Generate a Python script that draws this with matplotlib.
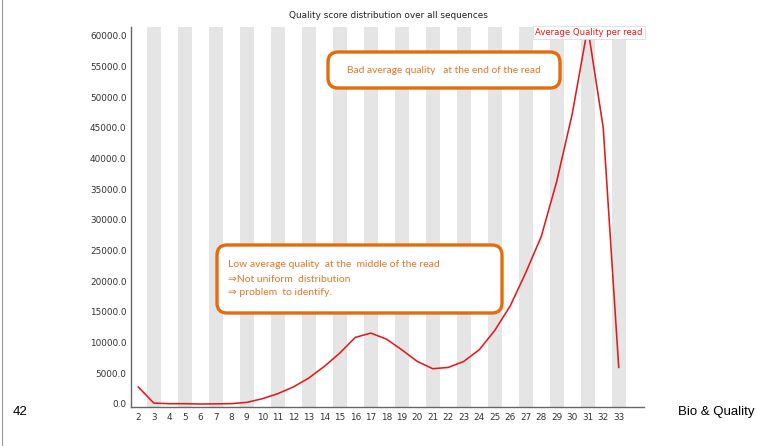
import matplotlib
matplotlib.use("Agg")
import matplotlib.pyplot as plt
from matplotlib.patches import FancyBboxPatch
from matplotlib.lines import Line2D

# Average quality per read: read positions and counts
positions = list(range(2, 34))
avg_quality = [2770, 150, 50, 50, 0, 20, 60, 260, 860, 1680, 2770, 4230,
               6120, 8300, 10850, 11560, 10590, 8840, 6940, 5750, 5960, 6940,
               8840, 11990, 16000, 21400, 27300, 36300, 47300, 61400, 45000, 5960]

y_ticks = [0, 5000, 10000, 15000, 20000, 25000, 30000, 35000, 40000,
           45000, 50000, 55000, 60000]
y_ticklabels = [f"{v:.1f}" for v in y_ticks]

chart_title = "Quality score distribution over all sequences"
legend_label = "Average Quality per read"
note_middle = ["Low average quality  at the  middle of the read",
               "\u21d2Not uniform  distribution",
               "\u21d2 problem  to identify."]
note_end = "Bad average quality   at the end of the read"
page_number = "42"
footer = "Bio & Quality"

W, H = 757, 446
fig = plt.figure(figsize=(W / 100, H / 100), dpi=100)
fig.patch.set_facecolor("white")

ax = fig.add_axes([130.7 / W, 39 / H, (644 - 130.7) / W, (407 - 27) / H])
ax.set_xlim(1.51, 34.63)
ax.set_ylim(-490, 61450)

# alternating grey bands behind odd positions
for p in positions:
    if p % 2 == 1:
        ax.axvspan(p - 0.46, p + 0.46, color="#e5e5e5", lw=0, zorder=0)

ax.plot(positions, avg_quality, color="#e31a1c", lw=1.15, zorder=3)

ax.set_xticks(positions)
ax.set_xticklabels([str(p) for p in positions])
ax.set_yticks(y_ticks)
ax.set_yticklabels(y_ticklabels)
ax.tick_params(axis="both", length=0, labelsize=6.4, colors="#333333", pad=3)
ax.tick_params(axis="x", pad=4)

for side in ("top", "right"):
    ax.spines[side].set_visible(False)
for side in ("left", "bottom"):
    ax.spines[side].set_color("#666666")
    ax.spines[side].set_linewidth(1.0)

fig.text(388 / W, 1 - 16 / H, chart_title, ha="center", va="center",
         fontsize=6.4, color="#222222")

# legend label in the top-right corner
ax.text(0.998, 0.997, legend_label, transform=ax.transAxes, ha="right", va="top",
        fontsize=6.1, color="#e31a1c", zorder=6,
        bbox=dict(boxstyle="square,pad=0.25", facecolor="white",
                  edgecolor="#dddddd", linewidth=0.6))

orange = "#e46c0a"
text_orange = "#e07828"
tr = fig.dpi_scale_trans

box1 = FancyBboxPatch((2.17 + 0.05, 1.33 + 0.05), 2.85 - 0.1, 0.68 - 0.1,
                      boxstyle="round,pad=0.05,rounding_size=0.1",
                      transform=tr, facecolor="white", edgecolor=orange,
                      linewidth=2.4, zorder=5)
fig.patches.append(box1)
for i, line in enumerate(note_middle):
    y = (H - [264.3, 279.3, 292.7][i]) / 100
    fig.text(2.28, y, line, transform=tr, ha="left", va="center",
             fontsize=7.5, color=text_orange, family=["Lato", "DejaVu Sans"],
             zorder=6)

box2 = FancyBboxPatch((3.28 + 0.05, 3.58 + 0.05), 2.32 - 0.1, 0.36 - 0.1,
                      boxstyle="round,pad=0.05,rounding_size=0.1",
                      transform=tr, facecolor="white", edgecolor=orange,
                      linewidth=2.4, zorder=5)
fig.patches.append(box2)
fig.text(4.44, (H - 70.7) / 100, note_end, transform=tr, ha="center",
         va="center", fontsize=7.4, color=text_orange,
         family=["Lato", "DejaVu Sans"], zorder=6)

# slide footer
fig.text(20 / W, 1 - 412 / H, page_number, ha="center", va="center",
         fontsize=9.5, color="black", family="Liberation Sans")
fig.text(755 / W, 1 - 412 / H, footer, ha="right", va="center",
         fontsize=9.5, color="black", family="Liberation Sans")
fig.lines.append(Line2D([1.5 / W, 1.5 / W], [0, 1], transform=fig.transFigure,
                        color="#999999", lw=0.8))

fig.savefig("out.png", dpi=100)
